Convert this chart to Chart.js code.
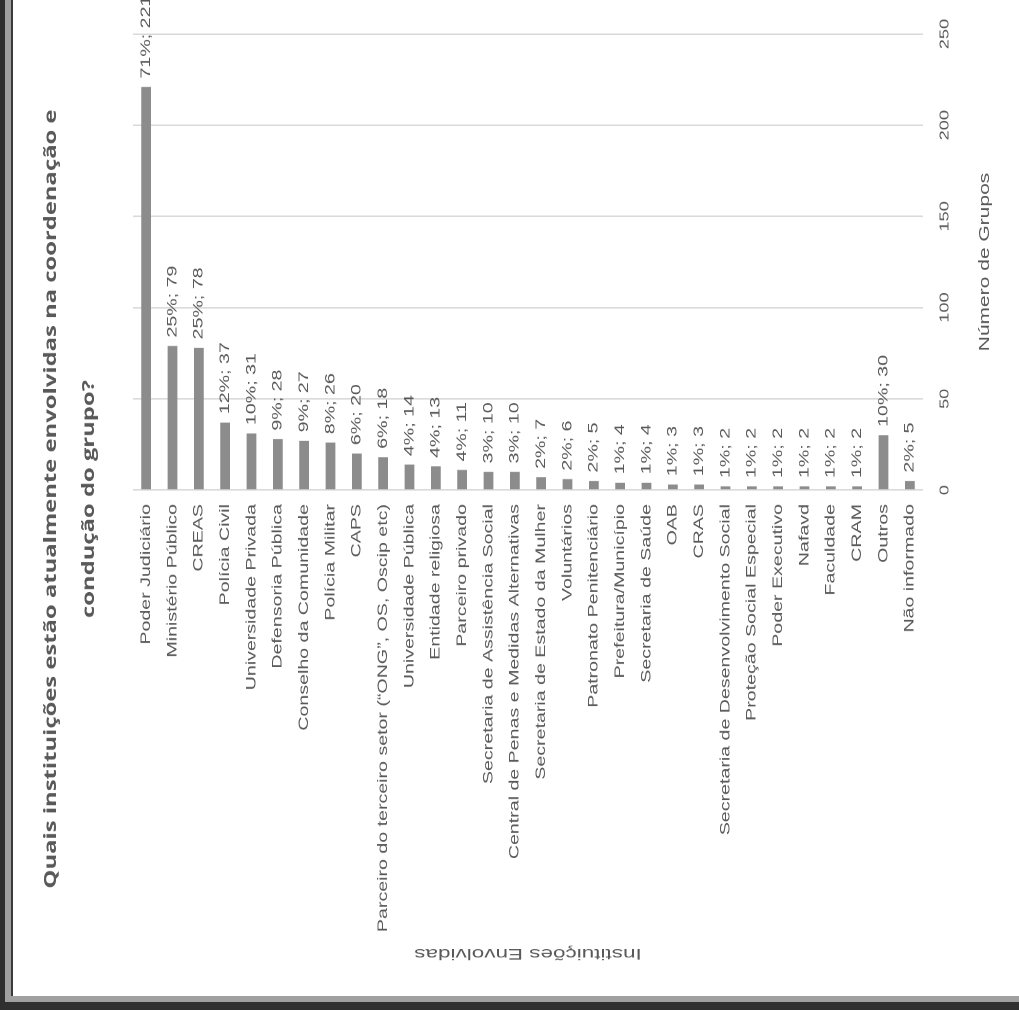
<!DOCTYPE html>
<html>
<head>
<meta charset="utf-8">
<script src="https://cdn.jsdelivr.net/npm/chart.js@4.4.0/dist/chart.umd.min.js"></script>
<style>
  html, body { margin:0; padding:0; width:1019px; height:1010px; overflow:hidden; background:#2f2f2f; }
  #frame { position:absolute; left:5px; top:-10px; width:1040px; height:1012px; background:#a0a0a0; }
  #edge { position:absolute; left:11px; top:-10px; width:2px; height:1006px; background:#3a3a3a; }
  #panel { position:absolute; left:13px; top:-10px; width:1030px; height:1006px; background:#ffffff; }
  #c { position:absolute; left:0; top:0; transform-origin:0 0;
       transform: translate(0px, 1010px) rotate(-90deg) scaleX(1.4); }
</style>
</head>
<body>
<div id="frame"></div>
<div id="edge"></div>
<div id="panel"></div>
<canvas id="c" width="722" height="1019"></canvas>
<script>
const categories = [
  'Poder Judiciário', 'Ministério Público', 'CREAS', 'Polícia Civil', 'Universidade Privada',
  'Defensoria Pública', 'Conselho da Comunidade', 'Polícia Militar', 'CAPS',
  'Parceiro do terceiro setor (“ONG”, OS, Oscip etc)', 'Universidade Pública', 'Entidade religiosa',
  'Parceiro privado', 'Secretaria de Assistência Social', 'Central de Penas e Medidas Alternativas',
  'Secretaria de Estado da Mulher', 'Voluntários', 'Patronato Penitenciário', 'Prefeitura/Município',
  'Secretaria de Saúde', 'OAB', 'CRAS', 'Secretaria de Desenvolvimento Social',
  'Proteção Social Especial', 'Poder Executivo', 'Nafavd', 'Faculdade', 'CRAM', 'Outros', 'Não informado'
];
const groupCounts = [221, 79, 78, 37, 31, 28, 27, 26, 20, 18, 14, 13, 11, 10, 10, 7, 6, 5, 4, 4, 3, 3, 2, 2, 2, 2, 2, 2, 30, 5];
const percentLabels = ['71%', '25%', '25%', '12%', '10%', '9%', '9%', '8%', '6%', '6%', '4%', '4%', '4%', '3%', '3%', '2%', '2%', '2%', '1%', '1%', '1%', '1%', '1%', '1%', '1%', '1%', '1%', '1%', '10%', '2%'];
const valueTicks = [0, 50, 100, 150, 200, 250];

const chartTitle = ['Quais instituições estão atualmente envolvidas na coordenação e', 'condução do grupo?'];
const xTitle = 'Número de Grupos';
const yTitle = 'Instituições Envolvidas';

const TEXT = '#595959';
const FONT = '"Liberation Sans", Arial, sans-serif';
const STRETCH = 1.4;

const barLabels = {
  id: 'barLabels',
  afterDatasetsDraw(chart) {
    const ctx = chart.ctx;
    const meta = chart.getDatasetMeta(0);
    ctx.save();
    ctx.font = '14px ' + FONT;
    ctx.fillStyle = TEXT;
    ctx.textAlign = 'left';
    ctx.textBaseline = 'middle';
    meta.data.forEach((bar, i) => {
      ctx.fillText(percentLabels[i] + '; ' + groupCounts[i], bar.x + 6, bar.y);
    });
    ctx.restore();
  }
};

// category-axis title, drawn at the axis' own title slot, compensating the page stretch
const yAxisTitle = {
  id: 'yAxisTitle',
  afterDraw(chart) {
    const ctx = chart.ctx;
    const s = chart.scales.y;
    const area = chart.chartArea;
    ctx.save();
    ctx.translate(s.left + 9, (area.top + area.bottom) / 2);
    ctx.rotate(-Math.PI / 2);
    ctx.scale(1.5, 1 / STRETCH);
    ctx.font = '15px ' + FONT;
    ctx.fillStyle = TEXT;
    ctx.textAlign = 'center';
    ctx.textBaseline = 'middle';
    ctx.fillText(yTitle, 0, 0);
    ctx.restore();
  }
};

new Chart(document.getElementById('c'), {
  type: 'bar',
  data: {
    labels: categories,
    datasets: [{
      data: groupCounts,
      backgroundColor: '#8c8c8c',
      borderWidth: 0,
      categoryPercentage: 1,
      barPercentage: 0.37
    }]
  },
  plugins: [barLabels, yAxisTitle],
  options: {
    indexAxis: 'y',
    responsive: false,
    animation: false,
    devicePixelRatio: 2,
    layout: { padding: { left: 31.4, right: 23.4, top: 0, bottom: 0 } },
    plugins: {
      legend: { display: false },
      tooltip: { enabled: false },
      title: {
        display: true,
        text: chartTitle,
        color: TEXT,
        font: { family: '"Open Sans", sans-serif', size: 17, weight: 'bold', lineHeight: 38 / 17 },
        padding: { top: 32, bottom: 25 }
      }
    },
    scales: {
      x: {
        min: 0, max: 250,
        afterBuildTicks: (s) => { s.ticks = valueTicks.map(v => ({ value: v })); },
        afterFit: (s) => { s.height = 96; },
        ticks: { color: TEXT, font: { family: FONT, size: 13 }, padding: 14 },
        grid: { color: '#d9d9d9', lineWidth: 1, drawTicks: false },
        border: { display: false },
        title: { display: true, text: xTitle, color: TEXT, font: { family: FONT, size: 15 }, padding: { top: 0, bottom: 25 } }
      },
      y: {
        afterFit: (s) => { s.width = 340; },
        ticks: { color: TEXT, font: { family: FONT, size: 14 }, padding: 10, autoSkip: false },
        grid: { display: false, drawTicks: false },
        border: { display: false },
        title: { display: false }
      }
    }
  }
});
</script>
</body>
</html>
